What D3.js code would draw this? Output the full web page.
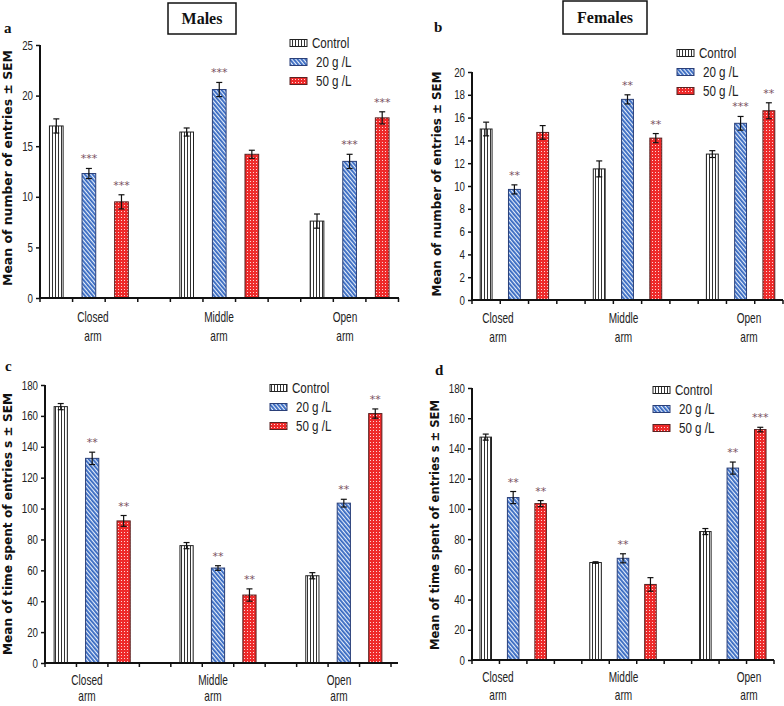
<!DOCTYPE html>
<html>
<head>
<meta charset="utf-8">
<script src="https://cdn.jsdelivr.net/npm/d3@7"></script>
<style>
  body { margin: 0; background: #fff; }
  svg { display: block; }
  .narrow { font-family: "Liberation Sans", Arial, sans-serif; fill: #222; }
  .y-title { font-family: "DejaVu Sans", sans-serif; font-weight: bold; font-size: 12px; fill: #111; }
  .serif { font-family: "Liberation Serif", "DejaVu Serif", serif; font-weight: bold; fill: #111; }
  .stars { font-family: "DejaVu Sans", sans-serif; font-size: 11px; fill: #7a5262; }
</style>
</head>
<body>
<div id="chart"></div>
<script>
'use strict';

// categories and series shared by all four panels
const categories = ['Closed arm', 'Middle arm', 'Open arm'];
const series = ['Control', '20 g /L', '50 g /L'];

// a - males, number of entries  ([series][category])
const malesEntriesMean = [[17.0, 16.4, 7.6], [12.3, 20.6, 13.5], [9.5, 14.2, 17.8]];
const malesEntriesSem = [[0.7, 0.4, 0.7], [0.5, 0.7, 0.7], [0.7, 0.4, 0.6]];
const malesEntriesStars = [['', '', ''], ['***', '***', '***'], ['***', '', '***']];
const malesEntriesTicks = [0, 5, 10, 15, 20, 25];

// b - females, number of entries
const femalesEntriesMean = [[15.0, 11.5, 12.8], [9.7, 17.6, 15.5], [14.7, 14.2, 16.6]];
const femalesEntriesSem = [[0.6, 0.7, 0.3], [0.4, 0.4, 0.6], [0.6, 0.4, 0.7]];
const femalesEntriesStars = [['', '', ''], ['**', '**', '***'], ['', '**', '**']];
const femalesEntriesTicks = [0, 2, 4, 6, 8, 10, 12, 14, 16, 18, 20];

// c - males, time spent
const malesTimeMean = [[166, 76, 56.5], [132.5, 61.5, 103.5], [92, 44, 161.5]];
const malesTimeSem = [[2, 2, 2], [4, 1.5, 2.5], [3.5, 4, 3]];
const malesTimeStars = [['', '', ''], ['**', '**', '**'], ['**', '**', '**']];
const timeTicks = [0, 20, 40, 60, 80, 100, 120, 140, 160, 180];

// d - females, time spent
const femalesTimeMean = [[147.5, 64.5, 85], [107.5, 67.3, 127], [103.5, 50, 152.5]];
const femalesTimeSem = [[2, 0.5, 2], [4, 3, 4], [2, 4.5, 1.5]];
const femalesTimeStars = [['', '', ''], ['**', '**', '**'], ['**', '', '***']];

const entriesTitle = 'Mean of number of entries  \u00b1 SEM';
const entriesTitleB = 'Mean of number of entries \u00b1 SEM';
const timeTitle = 'Mean of time spent of entries s  \u00b1 SEM';

const width = 784, height = 706;

const svg = d3.select('#chart')
  .append('svg')
  .attr('width', width)
  .attr('height', height);

// fill patterns
const defs = svg.append('defs');

const pCtrl = defs.append('pattern')
  .attr('id', 'p-control')
  .attr('patternUnits', 'userSpaceOnUse')
  .attr('width', 3).attr('height', 3);
pCtrl.append('rect').attr('width', 3).attr('height', 3).attr('fill', '#fff');
pCtrl.append('rect').attr('x', 1).attr('width', 1).attr('height', 3).attr('fill', '#333');

const pBlue = defs.append('pattern')
  .attr('id', 'p-20')
  .attr('patternUnits', 'userSpaceOnUse')
  .attr('width', 3).attr('height', 4)
  .attr('patternTransform', 'rotate(-40)');
pBlue.append('rect').attr('width', 3).attr('height', 4).attr('fill', '#e6eefa');
pBlue.append('rect').attr('width', 1.8).attr('height', 4).attr('fill', '#3366c0');

const pRed = defs.append('pattern')
  .attr('id', 'p-50')
  .attr('patternUnits', 'userSpaceOnUse')
  .attr('width', 3).attr('height', 3);
pRed.append('rect').attr('width', 3).attr('height', 3).attr('fill', '#ee2a2a');
pRed.append('rect').attr('x', 1).attr('y', 1).attr('width', 1).attr('height', 1).attr('fill', '#fbd6d6');

const fills = ['url(#p-control)', 'url(#p-20)', 'url(#p-50)'];
const strokes = ['#222', '#2a3f78', '#5a2222'];

// Calibri-like narrow text: squeeze a normal sans horizontally
function narrow(g, x, y, txt, size, sx, anchor) {
  return g.append('text')
    .attr('class', 'narrow')
    .attr('transform', `translate(${x},${y}) scale(${sx},1)`)
    .attr('font-size', size)
    .attr('text-anchor', anchor || 'start')
    .text(txt);
}

// one panel: band scale over 11 slots (3 bars + gap per arm)
function drawPanel(p) {
  const g = svg.append('g');
  const nSlots = categories.length * 4 - 1;

  const x = d3.scaleBand()
    .domain(d3.range(nSlots))
    .range(p.xRange)
    .paddingInner(0)
    .paddingOuter(0);

  const y = d3.scaleLinear()
    .domain([0, p.max])
    .range([p.y0, p.yTop]);

  const bw = x.bandwidth() * 0.42;

  // bars
  series.forEach((s, si) => {
    p.mean[si].forEach((v, ci) => {
      const cx = x(ci * 4 + si) + x.bandwidth() / 2;
      g.append('rect')
        .attr('x', cx - bw / 2)
        .attr('y', y(v))
        .attr('width', bw)
        .attr('height', y(0) - y(v))
        .attr('fill', fills[si])
        .attr('stroke', strokes[si])
        .attr('stroke-width', 1);

      // error bar
      const e = p.sem[si][ci];
      g.append('line')
        .attr('x1', cx).attr('x2', cx)
        .attr('y1', y(v - e)).attr('y2', y(v + e))
        .attr('stroke', '#111').attr('stroke-width', 1.2);
      [v - e, v + e].forEach(t => {
        g.append('line')
          .attr('x1', cx - 3).attr('x2', cx + 3)
          .attr('y1', y(t)).attr('y2', y(t))
          .attr('stroke', '#111').attr('stroke-width', 1.2);
      });

      if (p.stars[si][ci]) {
        g.append('text')
          .attr('class', 'stars')
          .attr('x', cx)
          .attr('y', y(v + e) - 6)
          .attr('text-anchor', 'middle')
          .text(p.stars[si][ci]);
      }
    });
  });

  // y axis
  const yAxis = g.append('g')
    .attr('transform', `translate(${p.xRange[0]},0)`)
    .call(d3.axisLeft(y).tickValues(p.ticks).tickSize(4).tickFormat(''));
  yAxis.select('.domain').attr('stroke', '#111').attr('stroke-width', 2).attr('d', `M0,${p.y0}V${p.yTop}`);
  yAxis.selectAll('.tick line').attr('stroke', '#111').attr('stroke-width', 1.5);
  p.ticks.forEach(t => {
    narrow(g, p.xRange[0] - 7, y(t) + 4.5, t, 13, 0.75, 'end');
  });

  // x axis with a tick at every slot boundary
  const bounds = d3.range(nSlots + 1).map(i => p.xRange[0] + i * x.step());
  g.append('line')
    .attr('x1', p.xRange[0]).attr('x2', p.axisEnd)
    .attr('y1', p.y0).attr('y2', p.y0)
    .attr('stroke', '#111').attr('stroke-width', 2);
  g.selectAll('.xtick')
    .data(bounds)
    .enter()
    .append('line')
    .attr('class', 'xtick')
    .attr('x1', d => d).attr('x2', d => d)
    .attr('y1', p.y0).attr('y2', p.y0 + 4)
    .attr('stroke', '#111').attr('stroke-width', 1.5);

  // arm labels
  const lx = d3.scalePoint().domain(categories).range(p.labelRange);
  categories.forEach(c => {
    c.split(' ').forEach((w, i) => {
      narrow(g, lx(c), p.y0 + p.labelDy[i], w, 14, 0.72, 'middle');
    });
  });

  // y title
  g.append('text')
    .attr('class', 'y-title')
    .attr('transform', `translate(${p.titleX},${p.titleY}) rotate(-90)`)
    .attr('text-anchor', 'middle')
    .attr('textLength', p.titleLen)
    .attr('lengthAdjust', 'spacingAndGlyphs')
    .text(p.title);

  // legend
  series.forEach((s, si) => {
    const ly = p.legend[1] + si * 19;
    g.append('rect')
      .attr('x', p.legend[0]).attr('y', ly - 3.5)
      .attr('width', 17).attr('height', 7)
      .attr('fill', fills[si])
      .attr('stroke', strokes[si]).attr('stroke-width', 1);
    narrow(g, p.legend[0] + 22 + (si > 0 ? 4 : 0), ly + 5, s, 14.5, 0.8);
  });

  // panel letter
  g.append('text')
    .attr('class', 'serif')
    .attr('x', p.letter[0]).attr('y', p.letter[1])
    .attr('font-size', 15)
    .text(p.letterText);
}

drawPanel({
  mean: malesEntriesMean, sem: malesEntriesSem, stars: malesEntriesStars,
  ticks: malesEntriesTicks, max: 25,
  xRange: [40, 398.5], axisEnd: 399, y0: 298, yTop: 45,
  labelRange: [93, 345], labelDy: [24, 43],
  title: entriesTitle, titleX: 12, titleY: 168, titleLen: 236,
  legend: [290, 43], letter: [4, 33], letterText: 'a'
});

drawPanel({
  mean: femalesEntriesMean, sem: femalesEntriesSem, stars: femalesEntriesStars,
  ticks: femalesEntriesTicks, max: 20,
  xRange: [472, 783], axisEnd: 783, y0: 300, yTop: 72,
  labelRange: [498, 749], labelDy: [23, 42],
  title: entriesTitleB, titleX: 441, titleY: 184, titleLen: 225,
  legend: [677, 53], letter: [434, 32], letterText: 'b'
});

drawPanel({
  mean: malesTimeMean, sem: malesTimeSem, stars: malesTimeStars,
  ticks: timeTicks, max: 180,
  xRange: [45, 391], axisEnd: 398, y0: 663, yTop: 385,
  labelRange: [87, 339], labelDy: [22, 38],
  title: timeTitle, titleX: 12, titleY: 524, titleLen: 262,
  legend: [270, 388], letter: [5, 371], letterText: 'c'
});

drawPanel({
  mean: femalesTimeMean, sem: femalesTimeSem, stars: femalesTimeStars,
  ticks: timeTicks, max: 180,
  xRange: [472, 774], axisEnd: 774, y0: 660, yTop: 388,
  labelRange: [498, 749], labelDy: [22, 40],
  title: timeTitle, titleX: 439, titleY: 525, titleLen: 250,
  legend: [653, 390], letter: [435, 375], letterText: 'd'
});

// boxed titles
[['Males', 168, 3, 68, 31, 24], ['Females', 563, 1, 84, 33, 23]].forEach(t => {
  svg.append('rect')
    .attr('x', t[1]).attr('y', t[2])
    .attr('width', t[3]).attr('height', t[4])
    .attr('fill', 'none')
    .attr('stroke', '#111').attr('stroke-width', 1.5);
  svg.append('text')
    .attr('class', 'serif')
    .attr('x', t[1] + t[3] / 2).attr('y', t[5])
    .attr('text-anchor', 'middle')
    .attr('font-size', 16)
    .text(t[0]);
});
</script>
</body>
</html>
